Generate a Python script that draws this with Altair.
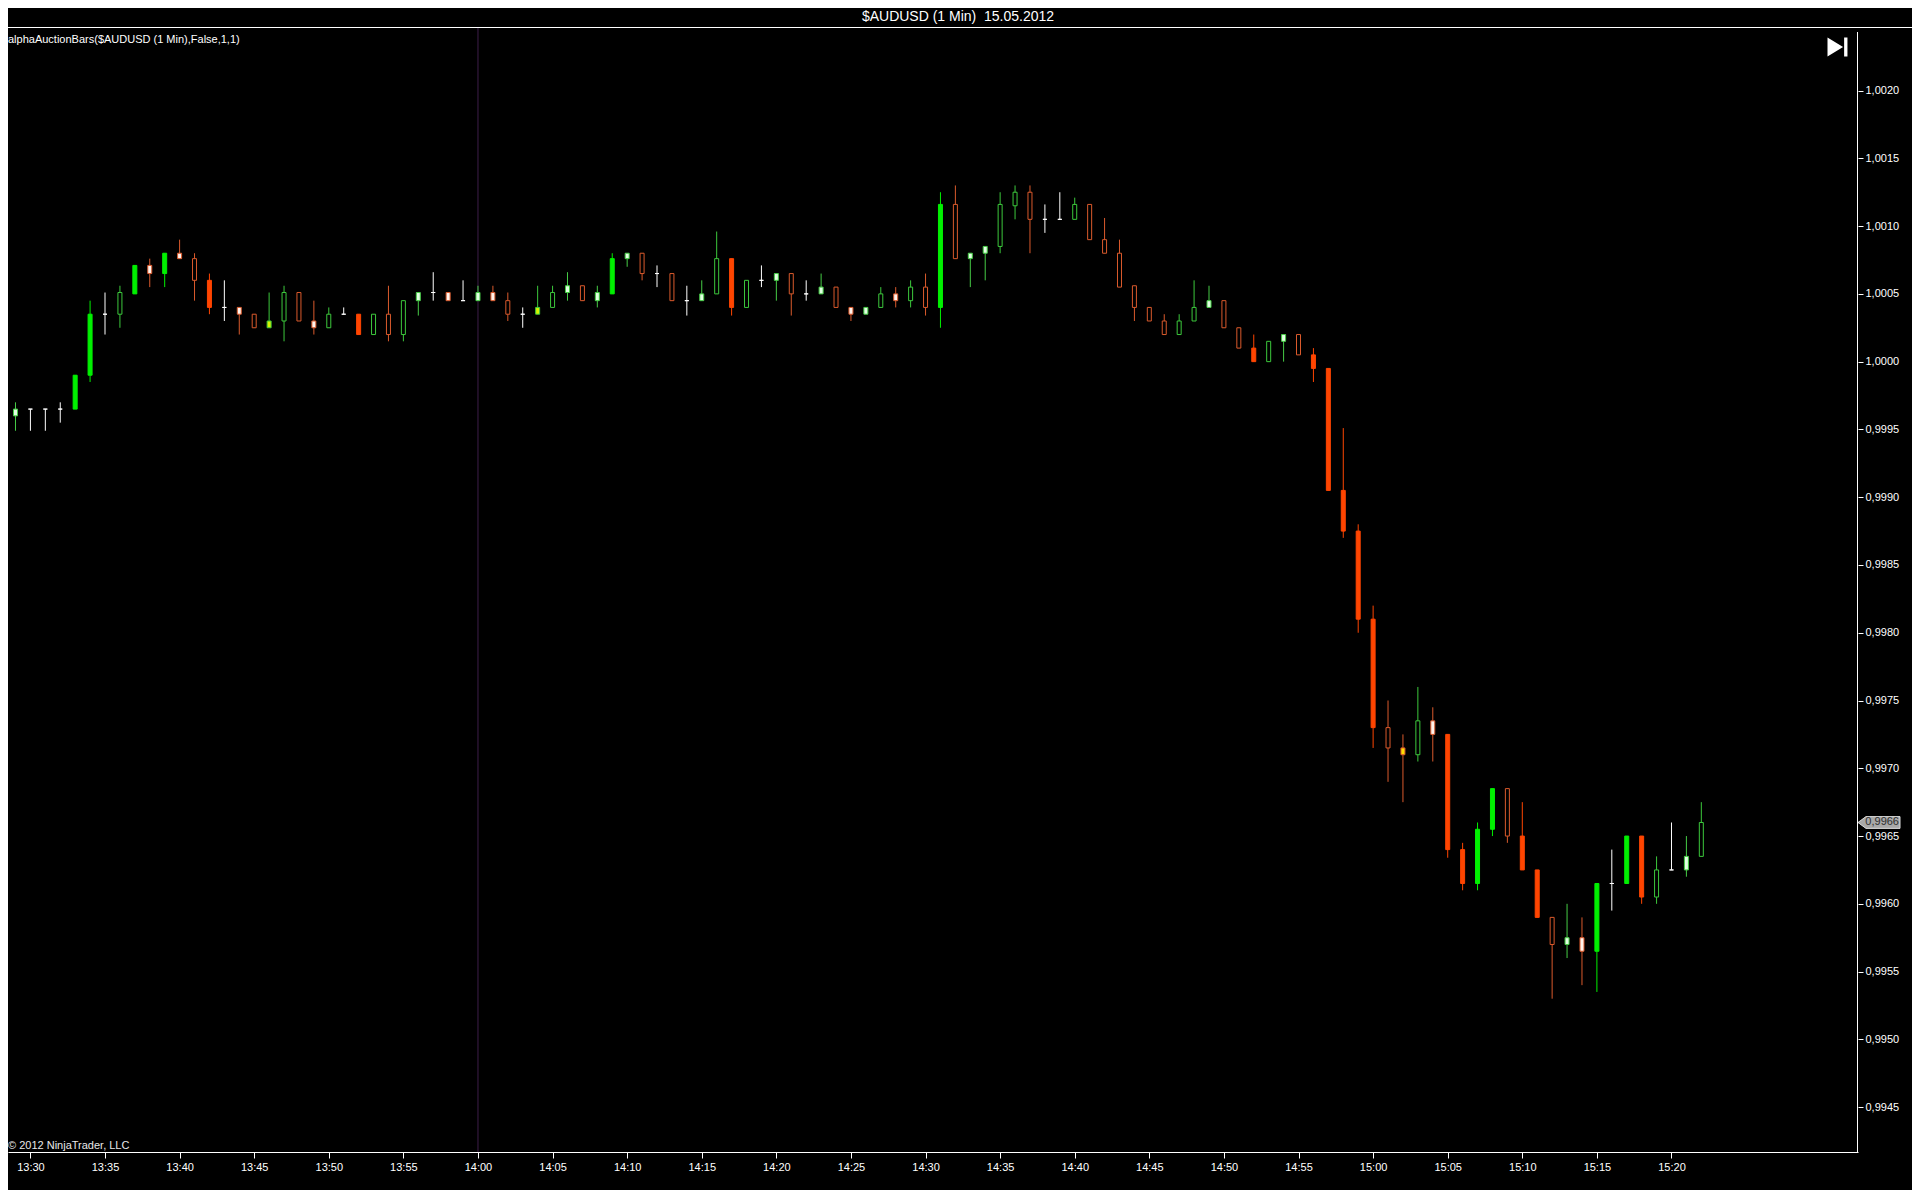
import altair as alt
import pandas as pd

# ---------------- data ----------------
first_bar = "2012-05-15 13:29"

kinds = ["pg","w","w","w","G","G","w","g","G","pr",
         "G","pr","r","R","w","pr","r","yg","g","r",
         "pr","g","w","R","g","r","g","pg","w","pr",
         "w","pg","pr","r","w","yg","g","pg","r","pg",
         "G","pg","r","w","r","w","pg","g","R","g",
         "w","pg","r","w","pg","r","pr","pg","g","pr",
         "g","r","G","r","pg","pg","g","g","r","w",
         "w","g","r","r","r","r","r","r","g","g",
         "pg","r","r","R","g","pg","r","R","R","R",
         "R","R","r","yr","g","pr","R","R","G","G",
         "r","R","R","r","pg","pr","G","w","G","R",
         "g","w","pg","g"]

opens = [0.99960,0.99965,0.99965,0.99965,0.99965,0.99990,1.00035,1.00035,1.00050,1.00071,
         1.00065,1.00080,1.00076,1.00060,1.00040,1.00040,1.00035,1.00025,1.00030,1.00051,
         1.00030,1.00025,1.00035,1.00035,1.00020,1.00035,1.00020,1.00045,1.00051,1.00051,
         1.00045,1.00045,1.00051,1.00045,1.00035,1.00035,1.00040,1.00051,1.00056,1.00045,
         1.00050,1.00076,1.00080,1.00065,1.00065,1.00045,1.00045,1.00050,1.00076,1.00040,
         1.00060,1.00060,1.00065,1.00050,1.00050,1.00055,1.00040,1.00035,1.00040,1.00050,
         1.00045,1.00055,1.00040,1.00116,1.00076,1.00080,1.00085,1.00115,1.00125,1.00105,
         1.00105,1.00105,1.00116,1.00090,1.00080,1.00056,1.00040,1.00030,1.00020,1.00030,
         1.00040,1.00045,1.00025,1.00010,1.00000,1.00015,1.00020,1.00005,0.99995,0.99905,
         0.99875,0.99810,0.99730,0.99715,0.99710,0.99735,0.99725,0.99640,0.99615,0.99655,
         0.99685,0.99650,0.99625,0.99590,0.99570,0.99575,0.99565,0.99615,0.99615,0.99650,
         0.99605,0.99625,0.99625,0.99635]

highs = [0.99970,0.99965,0.99965,0.99970,0.99990,1.00045,1.00051,1.00056,1.00071,1.00076,
         1.00080,1.00090,1.00080,1.00065,1.00060,1.00040,1.00035,1.00051,1.00056,1.00051,
         1.00045,1.00040,1.00040,1.00035,1.00035,1.00056,1.00045,1.00051,1.00066,1.00051,
         1.00060,1.00056,1.00056,1.00051,1.00040,1.00056,1.00056,1.00066,1.00056,1.00056,
         1.00080,1.00080,1.00080,1.00071,1.00065,1.00056,1.00060,1.00096,1.00076,1.00060,
         1.00071,1.00065,1.00065,1.00060,1.00065,1.00055,1.00040,1.00040,1.00055,1.00055,
         1.00060,1.00065,1.00125,1.00130,1.00080,1.00085,1.00125,1.00130,1.00130,1.00116,
         1.00125,1.00121,1.00116,1.00106,1.00090,1.00056,1.00040,1.00035,1.00035,1.00060,
         1.00056,1.00045,1.00025,1.00020,1.00015,1.00020,1.00020,1.00010,0.99995,0.99951,
         0.99880,0.99820,0.99750,0.99725,0.99760,0.99745,0.99725,0.99645,0.99660,0.99685,
         0.99685,0.99675,0.99625,0.99590,0.99600,0.99590,0.99615,0.99640,0.99650,0.99650,
         0.99635,0.99660,0.99650,0.99675]

lows = [0.99949,0.99949,0.99949,0.99955,0.99965,0.99985,1.00020,1.00025,1.00050,1.00055,
        1.00055,1.00076,1.00045,1.00035,1.00030,1.00020,1.00025,1.00025,1.00015,1.00030,
        1.00020,1.00025,1.00035,1.00020,1.00020,1.00015,1.00015,1.00034,1.00045,1.00045,
        1.00045,1.00045,1.00045,1.00030,1.00025,1.00035,1.00040,1.00045,1.00045,1.00040,
        1.00050,1.00070,1.00060,1.00055,1.00045,1.00034,1.00045,1.00050,1.00034,1.00040,
        1.00055,1.00045,1.00034,1.00045,1.00050,1.00040,1.00030,1.00035,1.00040,1.00040,
        1.00040,1.00034,1.00025,1.00076,1.00055,1.00060,1.00080,1.00105,1.00080,1.00095,
        1.00105,1.00105,1.00090,1.00080,1.00055,1.00030,1.00030,1.00020,1.00020,1.00030,
        1.00040,1.00025,1.00010,1.00000,1.00000,1.00000,1.00005,0.99985,0.99905,0.99870,
        0.99800,0.99715,0.99690,0.99675,0.99705,0.99705,0.99634,0.99610,0.99610,0.99650,
        0.99645,0.99625,0.99590,0.99530,0.99560,0.99540,0.99535,0.99595,0.99615,0.99600,
        0.99600,0.99625,0.99620,0.99635]

closes = [0.99965,0.99965,0.99965,0.99965,0.99990,1.00035,1.00035,1.00051,1.00071,1.00065,
          1.00080,1.00076,1.00060,1.00040,1.00040,1.00035,1.00025,1.00030,1.00051,1.00030,
          1.00025,1.00035,1.00035,1.00020,1.00035,1.00020,1.00045,1.00051,1.00051,1.00045,
          1.00045,1.00051,1.00045,1.00035,1.00035,1.00040,1.00051,1.00056,1.00045,1.00051,
          1.00076,1.00080,1.00065,1.00065,1.00045,1.00045,1.00050,1.00076,1.00040,1.00060,
          1.00060,1.00065,1.00050,1.00050,1.00055,1.00040,1.00035,1.00040,1.00050,1.00045,
          1.00055,1.00040,1.00116,1.00076,1.00080,1.00085,1.00116,1.00125,1.00105,1.00105,
          1.00105,1.00116,1.00090,1.00080,1.00055,1.00040,1.00030,1.00020,1.00030,1.00040,
          1.00045,1.00025,1.00010,1.00000,1.00015,1.00020,1.00005,0.99995,0.99905,0.99875,
          0.99810,0.99730,0.99715,0.99710,0.99735,0.99725,0.99640,0.99615,0.99655,0.99685,
          0.99650,0.99625,0.99590,0.99570,0.99575,0.99565,0.99615,0.99615,0.99650,0.99605,
          0.99625,0.99625,0.99635,0.99660]

x_tick_labels = ["13:30","13:35","13:40","13:45","13:50","13:55","14:00","14:05",
                 "14:10","14:15","14:20","14:25","14:30","14:35","14:40","14:45",
                 "14:50","14:55","15:00","15:05","15:10","15:15","15:20"]
y_ticks = [0.9945,0.9950,0.9955,0.9960,0.9965,0.9970,0.9975,0.9980,
           0.9985,0.9990,0.9995,1.0000,1.0005,1.0010,1.0015,1.0020]

title_text = "$AUDUSD (1 Min)\u00a0 15.05.2012"
indicator_text = "alphaAuctionBars($AUDUSD (1 Min),False,1,1)"
copyright_text = "\u00a9 2012 NinjaTrader, LLC"
session_mark = "14:00"

assert len(kinds) == len(opens) == len(highs) == len(lows) == len(closes)

# ---------------- table ----------------
def to_min(hhmm):
    h, m = hhmm.split(":")
    return (int(h) - 13) * 60 + int(m)

times = pd.date_range(first_bar, periods=len(closes), freq="min")
df = pd.DataFrame({
    "t": times.strftime("%H:%M"),
    "m": (times.hour - 13) * 60 + times.minute,
    "open": opens, "high": highs, "low": lows, "close": closes,
    "kind": kinds,
})

# ---------------- styles ----------------
kind_domain = ["G", "g", "pg", "yg", "R", "r", "pr", "yr", "w"]
fill_range = ["#00F000", "#000000", "#E2FFE2", "#D6F200",
              "#FF4500", "#000000", "#FFF3EC", "#FFE000", "#FFFFFF"]
stroke_range = ["#00F000", "#3CC83C", "#46CC46", "#3CC83C",
                "#FF4500", "#DA5A2C", "#DA5A2C", "#DA5A2C", "#FFFFFF"]

W, H = 1850, 1125
FONT = "Liberation Sans"

xscale = alt.Scale(domain=[28.833, 29 + (W + 8 - 10.5) / 15.0], nice=False, zero=False)
yscale = alt.Scale(domain=[0.994169, 1.002469], nice=False, zero=False)

x_enc = alt.X("m:Q", scale=xscale, title=None,
              axis=alt.Axis(values=[to_min(s) for s in x_tick_labels],
                            labelExpr="(13 + floor(datum.value/60)) + ':' + (datum.value % 60 < 10 ? '0' : '') + (datum.value % 60)",
                            orient="bottom", grid=False, domainColor="#FFFFFF", domainWidth=1,
                            tickColor="#FFFFFF", tickSize=6, tickWidth=1,
                            labelColor="#FFFFFF", labelFont=FONT, labelFontSize=11,
                            labelPadding=3, labelFlush=False, labelOverlap=False))
y_axis = alt.Axis(values=y_ticks, orient="right", grid=False, domain=False,
                  labelExpr="replace(format(datum.value, '.4f'), '.', ',')",
                  tickColor="#FFFFFF", tickSize=5, tickWidth=1,
                  labelColor="#FFFFFF", labelFont=FONT, labelFontSize=11,
                  labelPadding=2, labelFlush=False, labelOverlap=False)

base = alt.Chart(df)

session_line = alt.Chart(pd.DataFrame({"m": [to_min(session_mark)]})).mark_rule(
    color="#3E1E4A", strokeWidth=1).encode(x=alt.X("m:Q", scale=xscale))

wicks = base.mark_rule(strokeWidth=1).encode(
    x=x_enc,
    y=alt.Y("low:Q", scale=yscale, axis=y_axis, title=None),
    y2="high:Q",
    color=alt.Color("kind:N", scale=alt.Scale(domain=kind_domain, range=stroke_range), legend=None),
)

bodies = base.mark_bar(size=4, strokeWidth=1, opacity=1).encode(
    x=alt.X("m:Q", scale=xscale),
    y=alt.Y("open:Q", scale=yscale),
    y2="close:Q",
    fill=alt.Fill("kind:N", scale=alt.Scale(domain=kind_domain, range=fill_range), legend=None),
    stroke=alt.Stroke("kind:N", scale=alt.Scale(domain=kind_domain, range=stroke_range), legend=None),
)

one = alt.Chart(pd.DataFrame({"a": [0]}))

title = one.mark_text(text=title_text, font=FONT, fontSize=14, color="#FFFFFF",
                      align="center", baseline="alphabetic").encode(
    x=alt.value(950), y=alt.value(-6))
indicator = one.mark_text(text=indicator_text, font=FONT, fontSize=11, color="#FFFFFF",
                          align="left", baseline="middle").encode(
    x=alt.value(0), y=alt.value(13))
copyright_ = one.mark_text(text=copyright_text, font=FONT, fontSize=11, color="#E8E8E8",
                           align="left", baseline="middle").encode(
    x=alt.value(0), y=alt.value(1119))

top_line = one.mark_rule(color="#FFFFFF", strokeWidth=1).encode(
    x=alt.value(-8), x2=alt.value(W + 70), y=alt.value(0.5))
right_line = one.mark_rule(color="#FFFFFF", strokeWidth=1).encode(
    x=alt.value(W - 0.5), y=alt.value(5), y2=alt.value(H))

icon = one.mark_point(
    shape="M -1 -1 L 0.64 0 L -1 1 Z M 0.75 -1 L 1.1 -1 L 1.1 1 L 0.75 1 Z",
    size=361, filled=True, fill="#FFFFFF", stroke="#FFFFFF", strokeWidth=0, opacity=1).encode(
    x=alt.value(W - 21), y=alt.value(20))

last_close = closes[-1]
last_df = pd.DataFrame({"v": [last_close],
                        "lbl": [f"{last_close:.4f}".replace(".", ",")]})
tag = alt.Chart(last_df).mark_point(
    shape="M -1 0 L -0.62 -0.28 L 1 -0.28 L 1 0.28 L -0.62 0.28 Z",
    size=1764, filled=True, fill="#A8A8A8", stroke="#DADADA", strokeWidth=1, opacity=1).encode(
    x=alt.value(W + 21), y=alt.Y("v:Q", scale=yscale))
tag_text = alt.Chart(last_df).mark_text(font=FONT, fontSize=11, color="#303030",
                                        align="right", baseline="middle").encode(
    x=alt.value(W + 41), y=alt.Y("v:Q", scale=yscale), text="lbl:N")

chart = alt.layer(
    session_line, wicks, bodies, top_line, right_line, title, indicator, copyright_,
    icon, tag, tag_text
).properties(
    width=W, height=H,
    autosize=alt.AutoSizeParams(type="none"),
    padding={"left": 0, "top": 19, "right": 54, "bottom": 38},
    background="#000000",
).configure_view(stroke=None, fill="#000000")

chart.save("out.html", embed_options={"renderer": "svg", "actions": False})
